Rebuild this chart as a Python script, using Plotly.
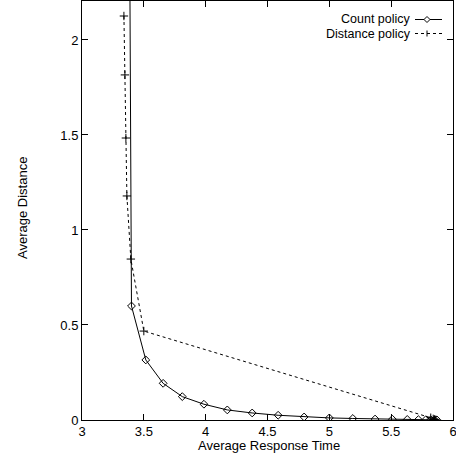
import plotly.graph_objects as go

count_x = [3.385, 3.40, 3.516, 3.656, 3.811, 3.986, 4.175, 4.376, 4.586, 4.796, 5.0, 5.19, 5.37, 5.51, 5.63, 5.72, 5.78, 5.82, 5.85, 5.87]
count_y = [2.6, 0.60, 0.316, 0.193, 0.123, 0.083, 0.053, 0.037, 0.025, 0.016, 0.011, 0.008, 0.005, 0.004, 0.003, 0.002, 0.0015, 0.001, 0.0008, 0.0005]

dist_x = [3.339, 3.347, 3.355, 3.363, 3.395, 3.50, 5.82, 5.84, 5.85, 5.86]
dist_y = [2.126, 1.816, 1.484, 1.179, 0.847, 0.468, 0.012, 0.006, 0.003, 0.001]

x_ticks = [3, 3.5, 4, 4.5, 5, 5.5, 6]
x_tick_text = ["3", "3.5", "4", "4.5", "5", "5.5", "6"]
y_ticks = [0, 0.5, 1, 1.5, 2]
y_tick_text = ["0", "0.5", "1", "1.5", "2"]

FONT = "Liberation Sans, Arial, Helvetica, sans-serif"
FS = 13
LEG_FS = 12.5

L, R, T, B = 82, 3, 1, 34
W, H = 456, 454
PW, PH = W - L - R, H - T - B


def px_x(px):
    return (px - L) / PW


def px_y(py):
    return 1 - (py - T) / PH


fig = go.Figure()
fig.add_trace(go.Scatter(
    x=count_x, y=count_y, mode="lines+markers", name="Count policy",
    line=dict(color="black", width=1),
    marker=dict(symbol="diamond-open", size=6, color="black", line=dict(width=1, color="black")),
    showlegend=False,
))
fig.add_trace(go.Scatter(
    x=dist_x, y=dist_y, mode="lines+markers", name="Distance policy",
    line=dict(color="black", width=1, dash="3px,3px"),
    marker=dict(symbol="cross-thin", size=6, color="black", line=dict(width=1, color="black")),
    showlegend=False,
))

axis_common = dict(
    showgrid=False, zeroline=False, showline=True, linecolor="black", linewidth=1,
    mirror="allticks", ticks="inside", ticklen=6, tickcolor="black", tickwidth=1,
    tickfont=dict(family=FONT, size=FS, color="black"), automargin=False,
    ticklabeloverflow="allow",
)
fig.update_xaxes(range=[3, 6], tickvals=x_ticks, ticktext=x_tick_text, ticklabelstandoff=-1, **axis_common)
fig.update_yaxes(range=[0, 2.205], tickvals=y_ticks, ticktext=y_tick_text, **axis_common)

# axis titles
fig.add_annotation(text="Average Response Time", xref="paper", yref="paper",
                   x=px_x(269), y=px_y(454), xanchor="center", yanchor="bottom", borderpad=0,
                   showarrow=False, font=dict(family=FONT, size=FS, color="black"))
fig.add_annotation(text="Average Distance", xref="paper", yref="paper",
                   x=px_x(23), y=px_y(208), xanchor="center", yanchor="middle", textangle=-90,
                   showarrow=False, font=dict(family=FONT, size=FS, color="black"))

# gnuplot-style key: text right-aligned, sample to the right
legend_rows = [("Count policy", 19.5, "solid", True), ("Distance policy", 33.5, "3px,3px", False)]
for label, ypx, dash, diamond in legend_rows:
    yp = px_y(ypx)
    fig.add_annotation(text=label, xref="paper", yref="paper", x=px_x(412), y=yp,
                       xanchor="right", yanchor="middle", showarrow=False, borderpad=0,
                       font=dict(family=FONT, size=LEG_FS, color="black"))
    fig.add_shape(type="line", xref="paper", yref="paper", x0=px_x(415), x1=px_x(442), y0=yp, y1=yp,
                  line=dict(color="black", width=1, dash=dash))
    xc = px_x(427)
    dx = 3 / PW
    dy = 3 / PH
    if diamond:
        fig.add_shape(type="path", xref="paper", yref="paper",
                      path=f"M {xc-dx} {yp} L {xc} {yp+dy} L {xc+dx} {yp} L {xc} {yp-dy} Z",
                      line=dict(color="black", width=1), fillcolor="white")
    else:
        fig.add_shape(type="line", xref="paper", yref="paper", x0=xc, x1=xc, y0=yp - dy, y1=yp + dy,
                      line=dict(color="black", width=1))

fig.update_layout(
    width=W, height=H,
    margin=dict(l=L, r=R, t=T, b=B, pad=0),
    paper_bgcolor="white", plot_bgcolor="white",
    font=dict(family=FONT, size=FS, color="black"),
)

fig.write_html("out.html", config={"displayModeBar": False},
               post_script="document.body.style.margin='0';document.body.style.padding='0';")
